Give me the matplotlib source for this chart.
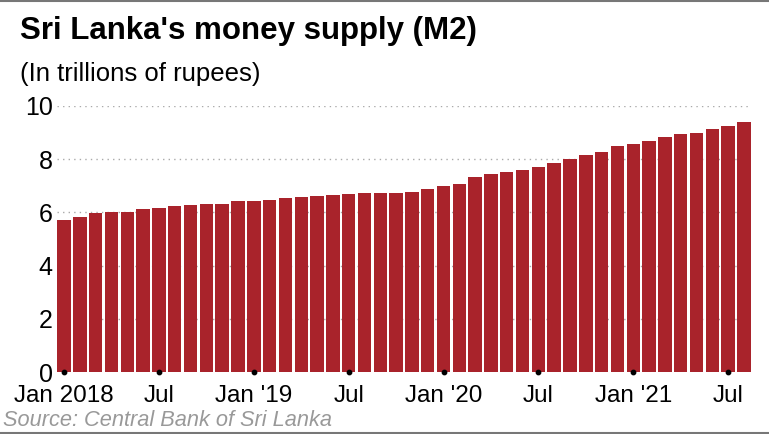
import matplotlib
matplotlib.use('Agg')
import matplotlib.pyplot as plt
import numpy as np

plt.rcParams['font.family'] = ['Liberation Sans', 'DejaVu Sans']

# M2 money supply, trillions of rupees, Jan 2018 - Aug 2021
months = [f"{y}-{m:02d}" for y in (2018, 2019, 2020, 2021) for m in range(1, 13)][:44]
m2 = [5.73, 5.82, 5.98, 6.02, 6.02, 6.11, 6.16, 6.23, 6.27, 6.31, 6.33, 6.42,
      6.41, 6.46, 6.53, 6.57, 6.60, 6.64, 6.68, 6.72, 6.74, 6.73, 6.78, 6.89,
      6.98, 7.06, 7.31, 7.44, 7.50, 7.57, 7.70, 7.84, 8.01, 8.15, 8.25, 8.47,
      8.58, 8.68, 8.83, 8.93, 8.99, 9.12, 9.25, 9.39]
tick_months = ["2018-01", "2018-07", "2019-01", "2019-07",
               "2020-01", "2020-07", "2021-01", "2021-07"]
tick_labels = ["Jan 2018", "Jul", "Jan '19", "Jul", "Jan '20", "Jul", "Jan '21", "Jul"]
y_ticks = [0, 2, 4, 6, 8, 10]

fig = plt.figure(figsize=(7.69, 4.34), dpi=100)
ax = fig.add_axes([0.0741, 0.1422, 0.9025, 0.6143])

x = np.arange(len(m2))
ax.bar(x, m2, width=0.85, color='#a9232b', zorder=2)

ax.set_xlim(-0.45, len(m2) - 0.55)
ax.set_ylim(0, 10)
for v in y_ticks[1:]:
    ax.axhline(v, color='#aaaaaa', lw=1, ls=(0, (1, 3)), zorder=1)

tick_pos = [months.index(t) for t in tick_months]
ax.scatter(tick_pos, [0] * len(tick_pos), s=10, color='black', zorder=3, clip_on=False)

ax.set_xticks(tick_pos)
ax.set_xticklabels(tick_labels, fontsize=17.5)
ax.set_yticks(y_ticks)
ax.set_yticklabels([str(v) for v in y_ticks], fontsize=18)
ax.tick_params(axis='both', length=0)
ax.tick_params(axis='x', pad=9)
ax.tick_params(axis='y', pad=3)
for s in ax.spines.values():
    s.set_visible(False)

fig.text(0.026, 0.929, "Sri Lanka's money supply (M2)", fontsize=22.5, fontweight='bold',
         ha='left', va='center')
fig.text(0.026, 0.830, "(In trillions of rupees)", fontsize=18.5, ha='left', va='center')
fig.text(0.004, 0.030, "Source: Central Bank of Sri Lanka", fontsize=15.7, style='italic',
         color='#999999', ha='left', va='center')
for yy in (0.003, 0.998):
    fig.add_artist(plt.Line2D([0, 1], [yy, yy], color='#777777', lw=1.5,
                              transform=fig.transFigure))

fig.savefig('out.png', dpi=100)
